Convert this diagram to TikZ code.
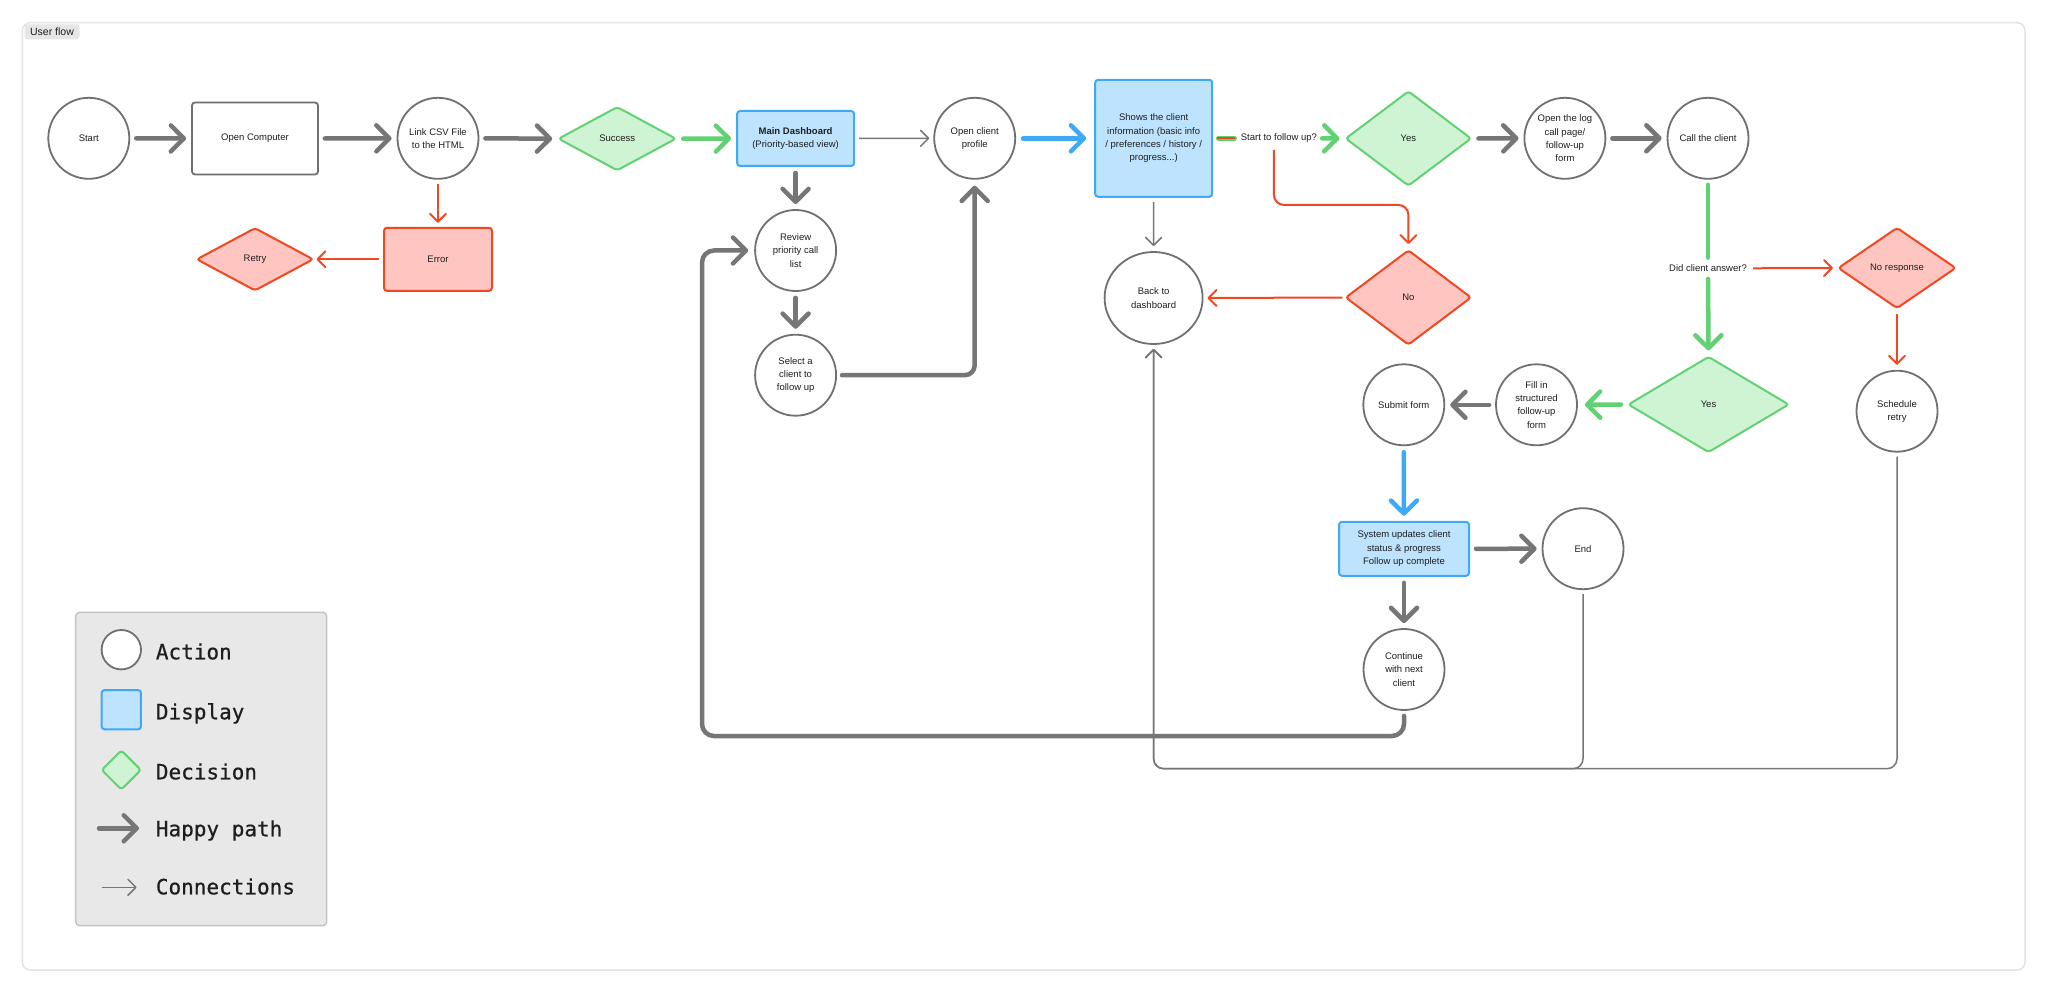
\documentclass[tikz,border=0pt]{standalone}
\usepackage{fontspec}
\setmainfont{Liberation Sans}
\newfontfamily\legendmono[FakeBold=0.6]{DejaVu Sans Mono}
\usetikzlibrary{shapes.geometric,arrows.meta}
\definecolor{gline}{HTML}{767676}
\definecolor{gstroke}{HTML}{707070}
\definecolor{grn}{HTML}{62D173}
\definecolor{grnfill}{HTML}{CEF4D4}
\definecolor{rline}{HTML}{F24822}
\definecolor{rfill}{HTML}{FFC6C1}
\definecolor{bline}{HTML}{3DA9F7}
\definecolor{bfill}{HTML}{BEE3FE}
\definecolor{framec}{HTML}{E3E3E3}
\definecolor{tagc}{HTML}{E6E6E6}
\definecolor{legf}{HTML}{E8E8E8}
\definecolor{legb}{HTML}{C4C4C4}
\definecolor{txtc}{HTML}{1E1E1E}
\tikzset{
  lbl/.style={font=\fontsize{9.5}{13.3}\selectfont, align=center, text=txtc, inner sep=0pt},
  act/.style={ellipse, draw=gstroke, line width=1.8pt, fill=white, minimum width=81pt, minimum height=81pt, inner sep=0pt, label={[lbl]center:{#1}}},
  plainbox/.style={rectangle, draw=gstroke, fill=white, line width=1.8pt, rounded corners=3pt, lbl},
  disp/.style={rectangle, draw=bline, fill=bfill, line width=2pt, rounded corners=3pt, lbl},
  errbox/.style={rectangle, draw=rline, fill=rfill, line width=2pt, rounded corners=3pt, lbl},
  decyes/.style={diamond, draw=grn, fill=grnfill, line width=2pt, rounded corners=3pt, lbl},
  decno/.style={diamond, draw=rline, fill=rfill, line width=2pt, rounded corners=3pt, lbl},
  happy/.style={draw=gline, line width=4.5pt, line cap=round, -{Straight Barb[length=13pt,width=26pt,round]}},
  conn/.style={draw=gline, line width=1.5pt, -{Straight Barb[length=8pt,width=16pt,round]}},
  redc/.style={draw=rline, line width=2pt, -{Straight Barb[length=8pt,width=16pt,round]}},
  gapd/.style={shorten <=6pt, shorten >=5pt},
  legtxt/.style={anchor=base west, text=txtc, inner sep=0pt, font=\legendmono\fontsize{21}{25}\selectfont},
}
\begin{document}
\begin{tikzpicture}[x=1pt,y=-1pt]
\useasboundingbox (0,0) rectangle (2047,992);
\fill[white] (0,0) rectangle (2047,992);
% frame
\draw[framec, line width=1.5pt, rounded corners=8pt] (22.3,22.7) rectangle (2025,970);
\node[fill=tagc, rounded corners=3pt, minimum width=55pt, minimum height=15pt, inner sep=0pt, text=txtc, font=\fontsize{10.5}{12}\selectfont] (tag) at (52,31.8) {User flow};

% nodes
\node[act={Start}] (start) at (88.8,138.3) {};
\node[plainbox, minimum width=126pt, minimum height=72pt] (opencomp) at (255,138.5) {Open Computer};
\node[act={Link CSV File\\to the HTML}] (link) at (438,138.3) {};
\node[decyes, minimum width=118pt, minimum height=64pt] (success) at (617.2,138.7) {Success};
\node[errbox, minimum width=108pt, minimum height=63pt] (error) at (438,259.3) {Error};
\node[decno, minimum width=117pt, minimum height=63pt] (retry) at (255,259.3) {Retry};
\node[disp, minimum width=117pt, minimum height=55pt] (maindash) at (795.6,138.5) {\textbf{Main Dashboard}\\(Priority-based view)};
\node[act={Review\\priority call\\list}] (review) at (795.6,250.5) {};
\node[act={Select a\\client to\\follow up}] (select) at (795.6,375.2) {};
\node[act={Open client\\profile}] (openprof) at (974.7,138.3) {};
\node[disp, minimum width=117pt, minimum height=117pt] (shows) at (1153.7,138.3) {Shows the client\\information (basic info\\/ preferences / history /\\progress...)};
\node[lbl] (followq) at (1278.9,138.3) {Start to follow up?};
\node[decyes, minimum width=126pt, minimum height=95pt] (yes1) at (1408.4,138.5) {Yes};
\node[decno, minimum width=126pt, minimum height=95pt] (no1) at (1408.4,297.5) {No};
\node[ellipse, draw=gstroke, line width=1.8pt, fill=white, minimum width=98pt, minimum height=92pt, inner sep=0pt, label={[lbl]center:{Back to\\dashboard}}] (back) at (1153.6,298) {};
\node[act={Open the log\\call page/\\follow-up\\form}] (openlog) at (1564.9,138.3) {};
\node[act={Call the client}] (call) at (1708,138.3) {};
\node[lbl] (answerq) at (1708,268.3) {Did client answer?};
\node[decno, minimum width=118pt, minimum height=81pt] (noresp) at (1897,268) {No response};
\node[decyes, minimum width=161pt, minimum height=96pt] (yes2) at (1708.5,404.5) {Yes};
\node[act={Fill in\\structured\\follow-up\\form}] (fill) at (1536.5,404.8) {};
\node[act={Submit form}] (submit) at (1403.8,404.8) {};
\node[act={Schedule\\retry}] (schedule) at (1897,411.2) {};
\node[disp, minimum width=130pt, minimum height=54pt] (system) at (1404,548.8) {System updates client\\status \& progress\\Follow up complete};
\node[act={End}] (endn) at (1583,548.7) {};
\node[act={Continue\\with next\\client}] (cont) at (1404,669.5) {};

% connectors
\draw[happy, gapd] (start.east) -- (opencomp.west);
\draw[happy, gapd] (opencomp.east) -- (link.west);
\draw[happy, gapd] (link.east) -- (success.west);
\draw[happy, gapd, draw=grn] (success.east) -- (maindash.west);
\draw[redc, shorten <=4pt, shorten >=4pt] (link.south) -- (error.north);
\draw[redc, shorten <=4pt, shorten >=2pt] (error.west) -- (retry.east);
\draw[conn, shorten <=4pt, shorten >=4pt] (maindash.east) -- (openprof.west);
\draw[happy, draw=bline, shorten <=7pt, shorten >=8pt] (openprof.east) -- (shows.west);
\draw[draw=grn, line width=4.5pt, line cap=round, shorten <=5pt, shorten >=6pt] (shows.east) -- (followq.west);
\draw[draw=rline, line width=2pt, shorten <=4pt, shorten >=6pt] (shows.east) -- (followq.west);
\draw[happy, draw=grn, shorten <=5pt, shorten >=5pt] (followq.east) -- (yes1.west);
\draw[redc, rounded corners=10pt, shorten <=7pt, shorten >=5pt] ([xshift=-5pt]followq.south) -- ++(0,62) -| (no1.north);
\draw[conn, shorten <=4pt, shorten >=5pt] (shows.south) -- (back.north);
\draw[redc, shorten <=2pt, shorten >=4pt] (no1.west) -- (back.east);
\draw[happy, gapd] (maindash.south) -- (review.north);
\draw[happy, gapd] (review.south) -- (select.north);
\draw[happy, rounded corners=10pt, shorten <=5pt, shorten >=6pt] (select.east) -| (openprof.south);
\draw[happy, gapd] (yes1.east) -- (openlog.west);
\draw[happy, gapd] (openlog.east) -- (call.west);
\draw[draw=grn, line width=4.5pt, line cap=round, shorten <=5pt, shorten >=7pt] (call.south) -- (answerq.north);
\draw[happy, draw=grn, shorten <=7pt, shorten >=5pt] (answerq.south) -- (yes2.north);
\draw[redc, shorten <=6pt, shorten >=4pt] (answerq.east) -- (noresp.west);
\draw[redc, shorten <=4pt, shorten >=5pt] (noresp.south) -- (schedule.north);
\draw[happy, draw=grn, shorten <=6pt, shorten >=7pt] (yes2.west) -- (fill.east);
\draw[happy, gapd] (fill.west) -- (submit.east);
\draw[happy, draw=bline, gapd] (submit.south) -- (system.north);
\draw[happy, gapd] (system.east) -- (endn.west);
\draw[happy, gapd] (system.south) -- (cont.north);
\coordinate (loopbl) at (702,736);
\draw[happy, rounded corners=12pt, shorten <=5pt, shorten >=6pt] (cont.south) |- (loopbl) |- (review.west);
\coordinate (botline) at (0,768.7);
\draw[conn, rounded corners=10pt, shorten <=4pt, shorten >=4pt] (schedule.south) |- (botline -| back.south) -- (back.south);
\draw[conn, rounded corners=10pt, shorten <=4pt, shorten >=4pt] (endn.south) |- (botline -| back.south) -- (back.south);

% legend
\node[draw=legb, fill=legf, line width=1.5pt, rounded corners=4pt, minimum width=251pt, minimum height=313.4pt, inner sep=0pt] (legend) at (201.2,769) {};
\node[ellipse, draw=gstroke, fill=white, line width=1.8pt, minimum width=39.4pt, minimum height=39.4pt, inner sep=0pt] (lgact) at (121.3,649.7) {};
\node[rectangle, draw=bline, fill=bfill, line width=2pt, rounded corners=3pt, minimum width=39.3pt, minimum height=39.3pt, inner sep=0pt] (lgdisp) at (121.3,709.7) {};
\node[diamond, draw=grn, fill=grnfill, line width=2pt, rounded corners=3pt, minimum width=40pt, minimum height=40pt, inner sep=0pt] (lgdec) at (121.3,770) {};
\coordinate (lgh1) at (99,828.3);
\coordinate (lgh2) at (139,828.3);
\draw[happy] (lgh1) -- (lgh2);
\coordinate (lgc1) at (101.7,887.3);
\coordinate (lgc2) at (136.7,887.3);
\draw[conn] (lgc1) -- (lgc2);
\node[legtxt] (lgt1) at (155.7,659.3) {Action};
\node[legtxt] (lgt2) at (155.7,719.3) {Display};
\node[legtxt] (lgt3) at (155.7,779.3) {Decision};
\node[legtxt] (lgt4) at (155.7,836.3) {Happy path};
\node[legtxt] (lgt5) at (155.7,894.3) {Connections};
\end{tikzpicture}
\end{document}
